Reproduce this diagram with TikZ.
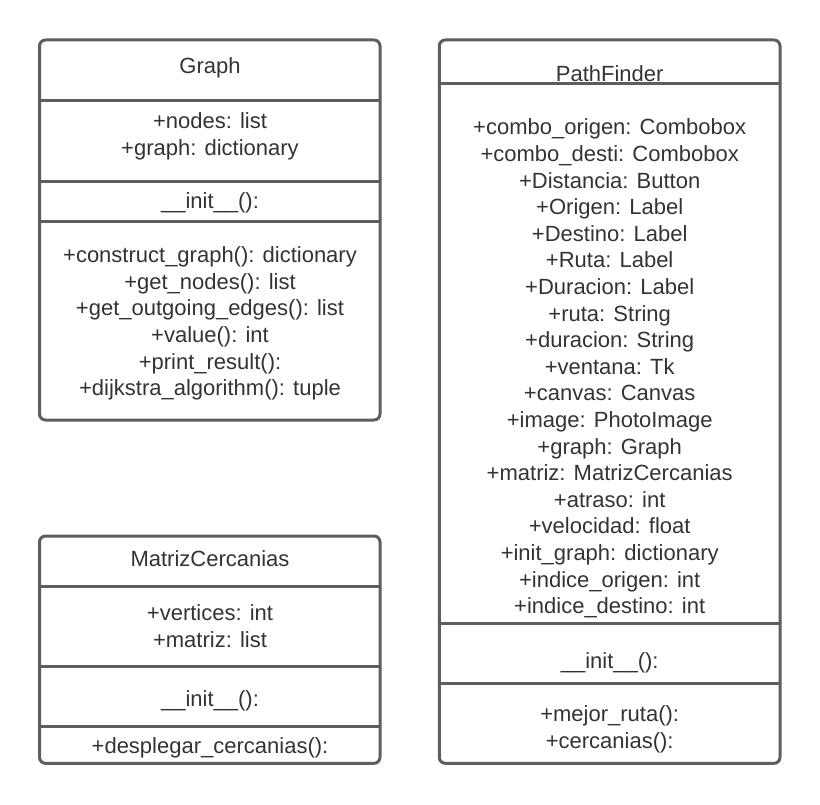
\documentclass[tikz,border=0pt]{standalone}
\usepackage{fontspec}
\setmainfont{Liberation Sans}
\definecolor{umlline}{HTML}{5E5E5E}
\definecolor{umltext}{HTML}{333333}
\tikzset{
	classbox/.style={draw=umlline,line width=3pt,rounded corners=6pt},
	divider/.style={draw=umlline,line width=3pt},
	member/.style={text=umltext,align=center,inner sep=0pt,font=\fontsize{22}{26.6}\selectfont},
}
\begin{document}
\begin{tikzpicture}[x=1pt,y=-1pt,line cap=round,line join=round]
	\useasboundingbox (0,0) rectangle (820,805);
	% Graph
	\draw[classbox] (39.5,40) rectangle (380,420);
	\draw[divider] (39.5,101) -- (380,101);
	\draw[divider] (39.5,181.7) -- (380,181.7);
	\draw[divider] (39.5,221.7) -- (380,221.7);
	\node[member] (graphName) at (210,68) {Graph};
	\node[member] (graphAttr) at (210,136.5) {+nodes: list\\+graph: dictionary};
	\node[member] (graphInit) at (210,203) {\_\_init\_\_():};
	\node[member] (graphOps) at (210,323.5) {+construct\_graph(): dictionary\\+get\_nodes(): list\\+get\_outgoing\_edges(): list\\+value(): int\\+print\_result():\\+dijkstra\_algorithm(): tuple};
	% MatrizCercanias
	\draw[classbox] (39.5,536) rectangle (380,763.3);
	\draw[divider] (39.5,586) -- (380,586);
	\draw[divider] (39.5,666) -- (380,666);
	\draw[divider] (39.5,726.7) -- (380,726.7);
	\node[member] (matName) at (210,559) {MatrizCercanias};
	\node[member] (matAttr) at (210,626) {+vertices: int\\+matriz: list};
	\node[member] (matInit) at (210,701) {\_\_init\_\_():};
	\node[member] (matOps) at (210,747.5) {+desplegar\_cercanias():};
	% PathFinder
	\draw[classbox] (439.3,40) rectangle (780,763.3);
	\draw[divider] (439.3,83.3) -- (780,83.3);
	\draw[divider] (439.3,623.3) -- (780,623.3);
	\draw[divider] (439.3,683.3) -- (780,683.3);
	\node[member] (pfName) at (609.7,74) {PathFinder};
	\node[member] (pfAttr) at (609.7,368.5) {+combo\_origen: Combobox\\+combo\_desti: Combobox\\+Distancia: Button\\+Origen: Label\\+Destino: Label\\+Ruta: Label\\+Duracion: Label\\+ruta: String\\+duracion: String\\+ventana: Tk\\+canvas: Canvas\\+image: PhotoImage\\+graph: Graph\\+matriz: MatrizCercanias\\+atraso: int\\+velocidad: float\\+init\_graph: dictionary\\+indice\_origen: int\\+indice\_destino: int};
	\node[member] (pfInit) at (609.7,663) {\_\_init\_\_():};
	\node[member] (pfOps) at (609.7,729.5) {+mejor\_ruta():\\+cercanias():};
\end{tikzpicture}
\end{document}
